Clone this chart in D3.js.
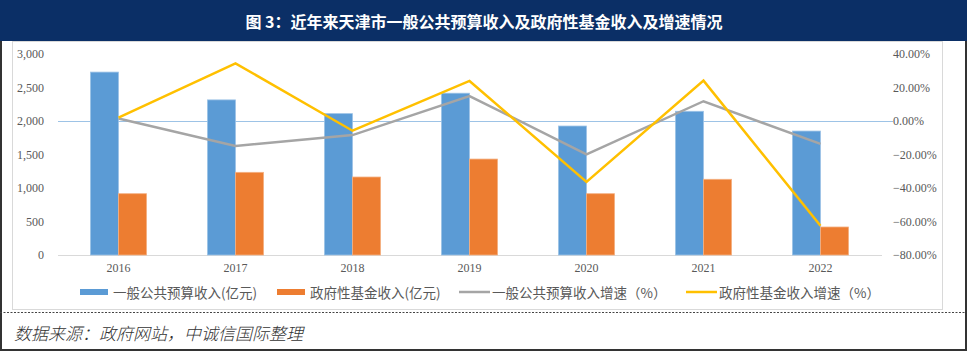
<!DOCTYPE html>
<html><head><meta charset="utf-8">
<script src="https://cdn.jsdelivr.net/npm/d3@7/dist/d3.min.js"></script>
<style>
html,body{margin:0;padding:0;background:#fff;}
svg{display:block;}
</style></head>
<body><svg id="c" width="970" height="355"></svg>
<script>
const years = ["2016","2017","2018","2019","2020","2021","2022"];
const generalRevenue = [2730, 2315, 2110, 2415, 1925, 2145, 1850];
const fundRevenue = [915, 1234, 1164, 1432, 915, 1130, 418];
const generalGrowth = [0.015, -0.149, -0.084, 0.149, -0.199, 0.118, -0.137];
const fundGrowth = [0.020, 0.344, -0.058, 0.239, -0.364, 0.241, -0.625];
const leftTicks = [0, 500, 1000, 1500, 2000, 2500, 3000];
const rightTicks = [-0.8, -0.6, -0.4, -0.2, 0, 0.2, 0.4];
const seriesNames = ["一般公共预算收入(亿元)", "政府性基金收入(亿元)", "一般公共预算收入增速（%）", "政府性基金收入增速（%）"];
const title = "图 3：近年来天津市一般公共预算收入及政府性基金收入及增速情况";
const source = "数据来源：政府网站，中诚信国际整理";

const colors = ["#5b9bd5", "#ed7d31", "#a5a5a5", "#ffc000"];
const svg = d3.select("#c");
const serif = "'Liberation Serif','Times New Roman',serif";
const cjk = "'Noto Sans CJK SC',sans-serif";

// outer frame
svg.append("rect").attr("x",1).attr("y",1).attr("width",965).attr("height",349)
  .attr("fill","#fff").attr("stroke","#333").attr("stroke-width",2);
// title bar
svg.append("rect").attr("x",0).attr("y",0).attr("width",967).attr("height",41).attr("fill","#0b2f66");
svg.append("text").attr("x",484).attr("y",21).attr("text-anchor","middle").attr("dominant-baseline","central")
  .attr("fill","#fff").attr("font-family",cjk).attr("font-weight","bold").attr("font-size",16).text(title);
// inner chart frame
svg.append("rect").attr("x",12.5).attr("y",41.5).attr("width",930).attr("height",268)
  .attr("fill","none").attr("stroke","#d9d9d9").attr("stroke-width",1);
// dotted separator
svg.append("line").attr("x1",0).attr("x2",966).attr("y1",312.5).attr("y2",312.5)
  .attr("stroke","#444").attr("stroke-width",1).attr("stroke-dasharray","2,1.5");
// source
svg.append("text").attr("x",14).attr("y",332).attr("dominant-baseline","central")
  .attr("font-family",cjk).attr("font-style","italic").attr("font-weight",300).attr("font-size",17).attr("fill","#333")
  .text(source);

const x0 = d3.scaleBand().domain(years).range([60, 879]).padding(0);
const bw = x0.bandwidth();
const x1 = d3.scaleBand().domain([0,1]).range([bw*0.26, bw*0.74]).padding(0);
const yL = d3.scaleLinear().domain([0, 3000]).range([255, 54]);
const yR = d3.scaleLinear().domain([-0.8, 0.4]).range([255, 54]);

// baseline
svg.append("line").attr("x1",58).attr("x2",882).attr("y1",yL(0)+0.5).attr("y2",yL(0)+0.5)
  .attr("stroke","#d9d9d9").attr("stroke-width",1);
// zero line of secondary axis
svg.append("line").attr("x1",58).attr("x2",893).attr("y1",Math.round(yR(0))+0.5).attr("y2",Math.round(yR(0))+0.5)
  .attr("stroke","#9dc3e6").attr("stroke-width",1.2);

// axes
const axL = d3.axisLeft(yL).tickValues(leftTicks).tickFormat(d3.format(",")).tickSize(0).tickPadding(0);
const gL = svg.append("g").attr("transform","translate(44,0)").call(axL);
gL.select(".domain").remove();
gL.selectAll("text").attr("font-family",serif).attr("font-size",12).attr("fill","#595959");

const axR = d3.axisRight(yR).tickValues(rightTicks).tickFormat(d3.format(".2%")).tickSize(0).tickPadding(0);
const gR = svg.append("g").attr("transform","translate(893,0)").call(axR);
gR.select(".domain").remove();
gR.selectAll("text").attr("font-family",serif).attr("font-size",12).attr("fill","#595959");

const axB = d3.axisBottom(x0).tickSize(0).tickPadding(0);
const gB = svg.append("g").attr("transform","translate(0,263)").call(axB);
gB.select(".domain").remove();
gB.selectAll("text").attr("font-family",serif).attr("font-size",12).attr("fill","#595959").attr("dy","0.71em");

// bars
const barData = [generalRevenue, fundRevenue];
barData.forEach((arr, si) => {
  svg.append("g").selectAll("rect").data(arr).join("rect")
    .attr("x", (d,i) => x0(years[i]) + x1(si))
    .attr("y", d => yL(d))
    .attr("width", x1.bandwidth())
    .attr("height", d => yL(0) - yL(d))
    .attr("fill", colors[si])
    .attr("stroke", si === 0 ? "#9dc3e6" : "#f4b183").attr("stroke-width", 0.8);
});

// lines
const lineData = [generalGrowth, fundGrowth];
const line = d3.line().x((d,i) => x0(years[i]) + bw/2).y(d => yR(d));
lineData.forEach((arr, si) => {
  svg.append("path").datum(arr).attr("d", line).attr("fill","none")
    .attr("stroke", colors[si+2]).attr("stroke-width", 2.5).attr("stroke-linejoin","miter");
});

// legend
const legY = 292;
const legX = [80, 277, 459, 686];
seriesNames.forEach((name, i) => {
  const g = svg.append("g").attr("transform", `translate(${legX[i]},${legY})`);
  if (i < 2) g.append("rect").attr("x",0).attr("y",-3).attr("width",28).attr("height",6).attr("fill",colors[i]);
  else g.append("line").attr("x1",0).attr("x2",31).attr("y1",0).attr("y2",0).attr("stroke",colors[i]).attr("stroke-width",2.5);
  g.append("text").attr("x", i < 2 ? 33 : 33).attr("y",0).attr("dominant-baseline","central")
    .attr("font-family",cjk).attr("font-size",13.5).attr("fill","#595959").text(name);
});
</script>
</body></html>
